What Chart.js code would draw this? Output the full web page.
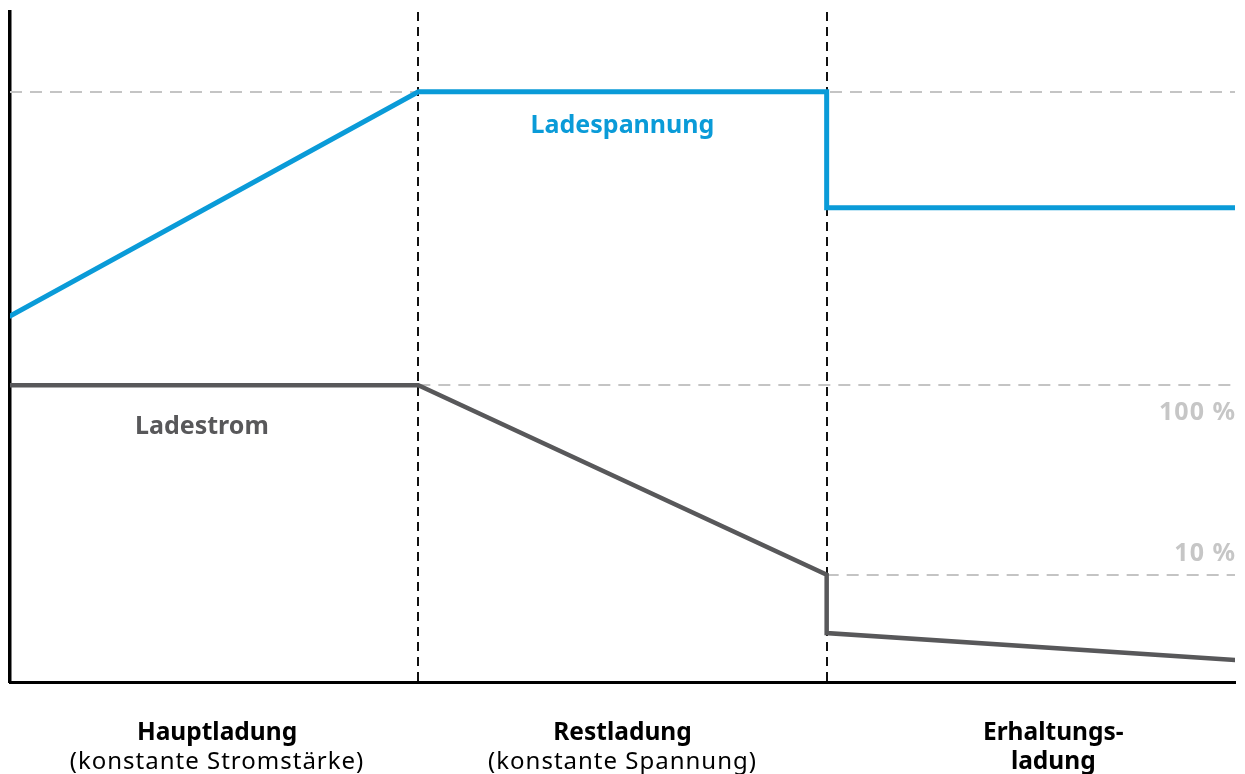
<!DOCTYPE html>
<html>
<head>
<meta charset="utf-8">
<script src="https://cdn.jsdelivr.net/npm/chart.js@4"></script>
<style>
html,body{margin:0;padding:0;background:#fff;}
#wrap{width:1245px;height:774px;position:relative;}
</style>
</head>
<body>
<div id="wrap"><canvas id="c" width="1245" height="774"></canvas></div>
<script>
// Phase boundaries on the x axis (0..3)
const phaseBounds = [0, 1, 2, 3];
// Charge voltage (Ladespannung) polyline
const voltageX = [0, 1, 2, 2, 3];
const voltageY = [5.46, 8.81, 8.81, 7.08, 7.08];
// Charge current (Ladestrom) polyline
const currentX = [0, 1, 2, 2, 3];
const currentY = [4.43, 4.43, 1.60, 0.73, 0.33];
// Reference levels
const refLevels = [8.81, 4.43, 1.60];
const refStarts = [0, 1, 2];
const refLabels = ["", "100 %", "10 %"];
// Phase labels
const phaseTitles = [["Hauptladung"], ["Restladung"], ["Erhaltungs-", "ladung"]];
const phaseSubtitles = [["(konstante Stromstärke)"], ["(konstante Spannung)"], []];
const phaseCenters = [0.507, 1.5, 2.555];

const FONT = "'Noto Sans', sans-serif";

const pts = (xs, ys) => xs.map((x, i) => ({x: x, y: ys[i]}));

const guides = {
  id: 'guides',
  beforeDatasetsDraw(chart) {
    const {ctx, chartArea: a, scales: {x, y}} = chart;
    ctx.save();
    // gray dashed reference lines
    ctx.strokeStyle = '#c4c4c4';
    ctx.lineWidth = 2;
    ctx.setLineDash([12, 8]);
    refLevels.forEach((lv, i) => {
      const py = Math.round(y.getPixelForValue(lv));
      ctx.beginPath();
      ctx.moveTo(x.getPixelForValue(refStarts[i]), py);
      ctx.lineTo(x.getPixelForValue(phaseBounds[3]), py);
      ctx.stroke();
    });
    // black dashed phase separators
    ctx.strokeStyle = '#111';
    ctx.lineWidth = 2;
    ctx.setLineDash([9, 6]);
    [phaseBounds[1], phaseBounds[2]].forEach(b => {
      const px = Math.round(x.getPixelForValue(b));
      ctx.beginPath();
      ctx.moveTo(px, a.top);
      ctx.lineTo(px, a.bottom);
      ctx.stroke();
    });
    ctx.restore();
  },
  afterDraw(chart) {
    const {ctx, chartArea: a, scales: {x, y}} = chart;
    ctx.save();
    ctx.textBaseline = 'middle';
    // series labels
    ctx.font = "bold 25px " + FONT;
    ctx.textAlign = 'center';
    ctx.fillStyle = '#0a9bd8';
    ctx.fillText('Ladespannung', x.getPixelForValue(1.5), y.getPixelForValue(8.81) + 34);
    ctx.fillStyle = '#58585a';
    ctx.fillText('Ladestrom', x.getPixelForValue(0.47), y.getPixelForValue(4.43) + 42);
    // reference labels
    ctx.textAlign = 'right';
    ctx.fillStyle = '#c6c6c6';
    ctx.font = "bold 25px " + FONT;
    ctx.letterSpacing = '1px';
    ctx.fillText(refLabels[1], x.getPixelForValue(3) + 1, y.getPixelForValue(refLevels[1]) + 28);
    ctx.fillText(refLabels[2], x.getPixelForValue(3) + 1, y.getPixelForValue(refLevels[2]) - 21);
    // phase labels
    ctx.textAlign = 'center';
    ctx.textBaseline = 'alphabetic';
    ctx.fillStyle = '#000';
    phaseCenters.forEach((c, i) => {
      const px = x.getPixelForValue(c);
      let base = a.bottom + 58;
      ctx.font = "bold 24.5px " + FONT;
      ctx.letterSpacing = '0px';
      phaseTitles[i].forEach(t => { ctx.fillText(t, px, base); base += 29; });
      ctx.font = "24px " + FONT;
      ctx.letterSpacing = '1px';
      phaseSubtitles[i].forEach(t => { ctx.fillText(t, px, base); base += 29; });
    });
    ctx.restore();
  }
};

new Chart(document.getElementById('c'), {
  type: 'line',
  data: {
    datasets: [
      {label: 'Ladespannung', data: pts(voltageX, voltageY), borderColor: '#0a9bd8', borderWidth: 5, pointRadius: 0, tension: 0, borderJoinStyle: 'miter', borderCapStyle: 'round'},
      {label: 'Ladestrom', data: pts(currentX, currentY), borderColor: '#58585a', borderWidth: 4.5, pointRadius: 0, tension: 0, borderJoinStyle: 'miter', borderCapStyle: 'round'}
    ]
  },
  options: {
    responsive: false,
    animation: false,
    events: [],
    layout: {padding: {left: 2, right: 10, top: 12, bottom: 84}},
    plugins: {legend: {display: false}, tooltip: {enabled: false}, title: {display: false}},
    scales: {
      x: {type: 'linear', min: 0, max: 3, ticks: {display: false}, grid: {display: false}, border: {display: true, color: '#000', width: 3}},
      y: {type: 'linear', min: 0, max: 10, ticks: {display: false}, grid: {display: false}, border: {display: true, color: '#000', width: 3.5}}
    }
  },
  plugins: [guides]
});
</script>
</body>
</html>
